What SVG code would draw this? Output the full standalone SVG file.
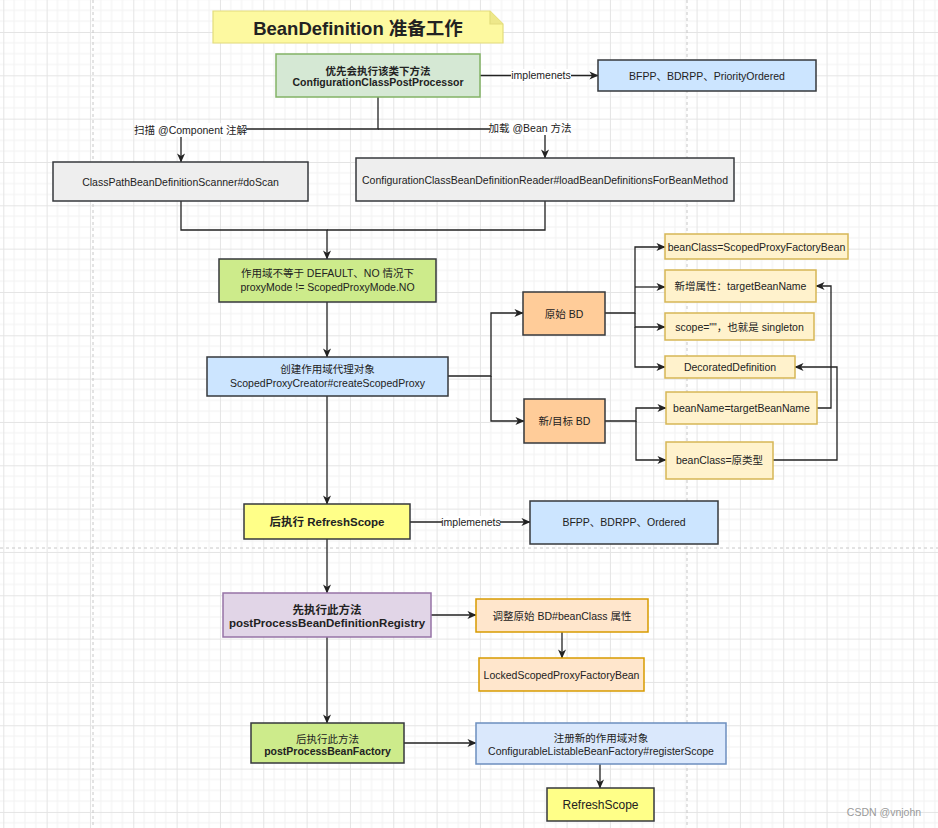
<svg xmlns="http://www.w3.org/2000/svg" width="938" height="828" viewBox="0 0 938 828">
<defs>
<pattern id="grid" width="43.33" height="43.33" patternUnits="userSpaceOnUse" x="3.3" y="32">
<path d="M10.83,0V43.33M21.67,0V43.33M32.5,0V43.33M0,10.83H43.33M0,21.67H43.33M0,32.5H43.33" stroke="#f2f2f2" stroke-width="1" fill="none"/>
<path d="M0.5,0V43.33M0,0.5H43.33" stroke="#e4e4e4" stroke-width="1" fill="none"/>
</pattern>
<marker id="arr" viewBox="0 0 10 10" refX="9.5" refY="5" markerWidth="9" markerHeight="9" markerUnits="userSpaceOnUse" orient="auto">
<path d="M0,0.5 L10,5 L0,9.5 L2.8,5 z" fill="#222"/>
</marker>
<style>
text{font-family:"Liberation Sans","Noto Sans CJK SC",sans-serif;fill:#222;text-anchor:middle;font-size:10.5px}
.b{font-weight:bold}
.n rect{stroke-width:1.5}
.gray{fill:#eeeeee;stroke:#36393d}
.blue{fill:#cce5ff;stroke:#36393d}
.lime{fill:#cdeb8b;stroke:#36393d}
.org{fill:#ffcc99;stroke:#36393d}
.yel{fill:#fff2cc;stroke:#d6b656}
.ylw{fill:#ffff88;stroke:#36393d}
.edge path{fill:none;stroke:#222;stroke-width:1.3}
.lbl{fill:#ffffff;stroke:none}
</style>
</defs>
<rect width="938" height="828" fill="#ffffff"/>
<rect width="938" height="828" fill="url(#grid)"/>
<g stroke="#c8c8c8" stroke-width="1" stroke-dasharray="3,3" fill="none">
<path d="M93,0V828"/>
<path d="M687,0V828"/>
<path d="M0,548H938"/>
</g>

<g id="title">
<path d="M213,11H490L503,24V43H213Z" fill="#fdf9a0" stroke="#e3dc7c" stroke-width="1.2"/>
<path d="M490,11V24H503" fill="#eee88a" stroke="#e3dc7c" stroke-width="1.2"/>
<text x="358" y="34.5" class="b" style="font-size:18.5px">BeanDefinition 准备工作</text>
</g>

<g class="edge" id="edges">
<path d="M480,75.5H598" marker-end="url(#arr)"/>
<rect class="lbl" x="511" y="69" width="60" height="13"/>
<text x="541" y="79">implemenets</text>
<path d="M378,97V129H181V162" marker-end="url(#arr)"/>
<rect class="lbl" x="135" y="123" width="111" height="14"/>
<text x="190.5" y="133.5">扫描 @Component 注解</text>
<path d="M378,129H545V158" marker-end="url(#arr)"/>
<rect class="lbl" x="490" y="121" width="81" height="14"/>
<text x="530" y="131.5">加载 @Bean 方法</text>
<path d="M181,201V230H327V259" marker-end="url(#arr)"/>
<path d="M545,201V230H327"/>
<path d="M327,302V357" marker-end="url(#arr)"/>
<path d="M448,376H491V313H523" marker-end="url(#arr)"/>
<path d="M491,376V421H524" marker-end="url(#arr)"/>
<path d="M605,313H635V247H665" marker-end="url(#arr)"/>
<path d="M635,287H665" marker-end="url(#arr)"/>
<path d="M635,313V327H665" marker-end="url(#arr)"/>
<path d="M635,327V367H665" marker-end="url(#arr)"/>
<path d="M605,421H636V408H666" marker-end="url(#arr)"/>
<path d="M636,421V460H666" marker-end="url(#arr)"/>
<path d="M817,408H831V286H816" marker-end="url(#arr)"/>
<path d="M773,460H837V367H795" marker-end="url(#arr)"/>
<path d="M327,396V504" marker-end="url(#arr)"/>
<path d="M410,522H530" marker-end="url(#arr)"/>
<rect class="lbl" x="442" y="516" width="58" height="13"/>
<text x="471" y="526">implemenets</text>
<path d="M327,539V593" marker-end="url(#arr)"/>
<path d="M431,615H476" marker-end="url(#arr)"/>
<path d="M562,632V658" marker-end="url(#arr)"/>
<path d="M327,637V723" marker-end="url(#arr)"/>
<path d="M404,743H476" marker-end="url(#arr)"/>
<path d="M600,764V788" marker-end="url(#arr)"/>
</g>

<g id="ccpp" class="n">
<rect x="276" y="54" width="204" height="43" fill="#d5e8d4" stroke="#82b366"/>
<text x="378" y="74.5" class="b">优先会执行该类下方法</text>
<text x="378" y="85.5" class="b">ConfigurationClassPostProcessor</text>
</g>
<g id="bfpp1" class="n">
<rect x="598" y="60" width="218" height="31" class="blue"/>
<text x="707" y="79.5">BFPP、BDRPP、PriorityOrdered</text>
</g>
<g id="scanner" class="n">
<rect x="53" y="162" width="255" height="39" class="gray"/>
<text x="180.5" y="185.5">ClassPathBeanDefinitionScanner#doScan</text>
</g>
<g id="reader" class="n">
<rect x="356" y="158" width="378" height="43" class="gray"/>
<text x="545" y="183.5">ConfigurationClassBeanDefinitionReader#loadBeanDefinitionsForBeanMethod</text>
</g>
<g id="proxymode" class="n">
<rect x="219" y="259" width="217" height="43" class="lime"/>
<text x="327.5" y="277">作用域不等于 DEFAULT、NO 情况下</text>
<text x="327.5" y="290.5">proxyMode != ScopedProxyMode.NO</text>
</g>
<g id="createproxy" class="n">
<rect x="207" y="357" width="241" height="39" class="blue"/>
<text x="327.5" y="373">创建作用域代理对象</text>
<text x="327.5" y="386.5">ScopedProxyCreator#createScopedProxy</text>
</g>
<g id="origbd" class="n">
<rect x="523" y="292" width="82" height="43" class="org"/>
<text x="564" y="317.5">原始 BD</text>
</g>
<g id="newbd" class="n">
<rect x="524" y="399" width="81" height="44" class="org"/>
<text x="564.5" y="425">新/目标 BD</text>
</g>
<g id="beanclass1" class="n">
<rect x="665" y="234" width="183" height="25" class="yel"/>
<text x="756.5" y="250.5">beanClass=ScopedProxyFactoryBean</text>
</g>
<g id="targetattr" class="n">
<rect x="665" y="270" width="151" height="32" class="yel"/>
<text x="740.5" y="290">新增属性：targetBeanName</text>
</g>
<g id="scope" class="n">
<rect x="665" y="313" width="149" height="27" class="yel"/>
<text x="739.5" y="330.5">scope=""，也就是 singleton</text>
</g>
<g id="decorated" class="n">
<rect x="665" y="356" width="130" height="22" class="yel"/>
<text x="730" y="371">DecoratedDefinition</text>
</g>
<g id="beanname" class="n">
<rect x="666" y="392" width="151" height="32" class="yel"/>
<text x="741.5" y="411.5">beanName=targetBeanName</text>
</g>
<g id="beanclass2" class="n">
<rect x="666" y="442" width="107" height="37" class="yel"/>
<text x="719.5" y="464">beanClass=原类型</text>
</g>
<g id="refresh1" class="n">
<rect x="244" y="504" width="166" height="35" class="ylw"/>
<text x="327" y="525.5" class="b" style="font-size:11.5px">后执行 RefreshScope</text>
</g>
<g id="bfpp2" class="n">
<rect x="530" y="501" width="188" height="43" class="blue"/>
<text x="624" y="526">BFPP、BDRPP、Ordered</text>
</g>
<g id="registry" class="n">
<rect x="223" y="593" width="208" height="44" fill="#e1d5e7" stroke="#9673a6"/>
<text x="327" y="613.5" class="b" style="font-size:11.5px">先执行此方法</text>
<text x="327" y="627" class="b" style="font-size:11.5px">postProcessBeanDefinitionRegistry</text>
</g>
<g id="adjust" class="n">
<rect x="476" y="599" width="172" height="33" fill="#ffe6cc" stroke="#d79b00"/>
<text x="562" y="619.5">调整原始 BD#beanClass 属性</text>
</g>
<g id="locked" class="n">
<rect x="479" y="658" width="165" height="33" fill="#ffe6cc" stroke="#d79b00"/>
<text x="561.5" y="678.5">LockedScopedProxyFactoryBean</text>
</g>
<g id="factory" class="n">
<rect x="251" y="723" width="153" height="40" class="lime"/>
<text x="327.5" y="743">后执行此方法</text>
<text x="327.5" y="755" class="b">postProcessBeanFactory</text>
</g>
<g id="register" class="n">
<rect x="476" y="723" width="250" height="41" fill="#dae8fc" stroke="#6c8ebf"/>
<text x="601" y="742">注册新的作用域对象</text>
<text x="601" y="754.5">ConfigurableListableBeanFactory#registerScope</text>
</g>
<g id="refresh2" class="n">
<rect x="547" y="788" width="107" height="33" class="ylw"/>
<text x="600.5" y="809" style="font-size:12px">RefreshScope</text>
</g>
<text x="884" y="816" style="fill:#9a9a9a;font-size:10.5px">CSDN @vnjohn</text>
</svg>
